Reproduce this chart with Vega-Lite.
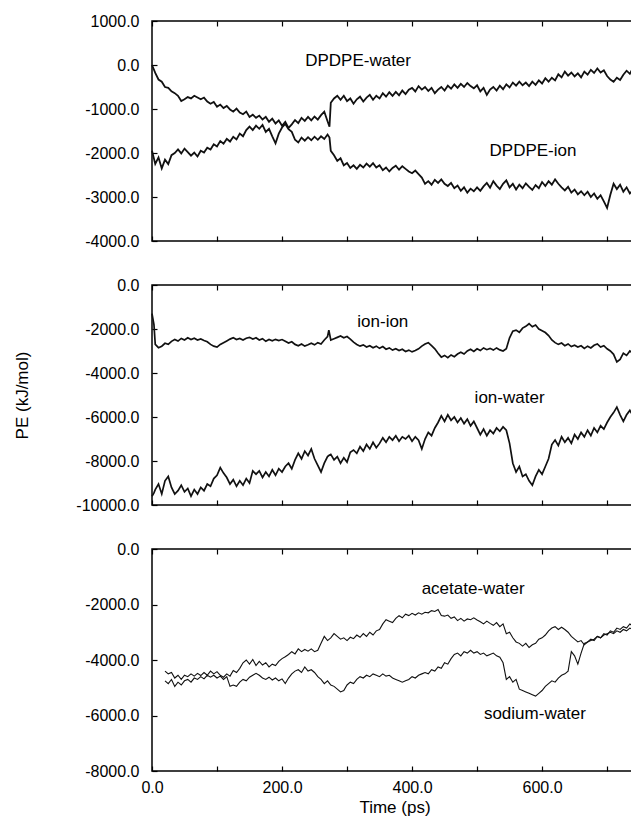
{
  "$schema": "https://vega.github.io/schema/vega-lite/v6.json",
  "padding": {"left": 13, "top": 12, "right": 0, "bottom": 0},
  "background": "white",
  "bounds": "flush",
  "spacing": 44,
  "config": {
    "view": {"stroke": "black", "strokeWidth": 1.5},
    "font": "Liberation Sans",
    "axis": {
      "grid": false, "domain": false, "labelFlush": false,
      "labelFont": "Liberation Sans", "labelFontSize": 16, "labelColor": "black",
      "tickColor": "black", "tickWidth": 1.2,
      "titleFont": "Liberation Sans", "titleFontSize": 17, "titleFontWeight": "normal", "titleColor": "black"
    }
  },
  "datasets": {
    "p1": [
      {"t":0,"w":0,"i":-1950},{"t":5,"w":-180,"i":-2250},{"t":10,"w":-330,"i":-2100},{"t":15,"w":-380,"i":-2350},{"t":20,"w":-500,"i":-2150},
      {"t":25,"w":-520,"i":-2250},{"t":30,"w":-600,"i":-2050},{"t":35,"w":-640,"i":-2000},{"t":40,"w":-700,"i":-1920},{"t":45,"w":-820,"i":-2010},
      {"t":50,"w":-780,"i":-1900},{"t":55,"w":-730,"i":-1980},{"t":60,"w":-760,"i":-2060},{"t":65,"w":-700,"i":-1990},{"t":70,"w":-740,"i":-2080},
      {"t":75,"w":-780,"i":-1950},{"t":80,"w":-740,"i":-1990},{"t":85,"w":-830,"i":-1880},{"t":90,"w":-880,"i":-1920},{"t":95,"w":-840,"i":-1800},
      {"t":100,"w":-950,"i":-1850},{"t":105,"w":-900,"i":-1730},{"t":110,"w":-980,"i":-1790},{"t":115,"w":-930,"i":-1680},{"t":120,"w":-1010,"i":-1740},
      {"t":125,"w":-1060,"i":-1630},{"t":130,"w":-990,"i":-1690},{"t":135,"w":-1080,"i":-1560},{"t":140,"w":-1120,"i":-1620},{"t":145,"w":-1060,"i":-1480},
      {"t":150,"w":-1180,"i":-1400},{"t":155,"w":-1130,"i":-1480},{"t":160,"w":-1200,"i":-1380},{"t":165,"w":-1150,"i":-1450},{"t":170,"w":-1240,"i":-1360},
      {"t":175,"w":-1180,"i":-1520},{"t":180,"w":-1290,"i":-1450},{"t":185,"w":-1220,"i":-1620},{"t":190,"w":-1330,"i":-1780},{"t":195,"w":-1260,"i":-1560},
      {"t":200,"w":-1380,"i":-1420},{"t":205,"w":-1290,"i":-1340},{"t":210,"w":-1430,"i":-1460},{"t":215,"w":-1350,"i":-1520},{"t":220,"w":-1250,"i":-1700},
      {"t":225,"w":-1320,"i":-1760},{"t":230,"w":-1200,"i":-1650},{"t":235,"w":-1270,"i":-1720},{"t":240,"w":-1180,"i":-1640},{"t":245,"w":-1260,"i":-1710},
      {"t":250,"w":-1170,"i":-1630},{"t":255,"w":-1240,"i":-1700},{"t":260,"w":-1140,"i":-1620},{"t":265,"w":-1060,"i":-1680},{"t":270,"w":-1280,"i":-1580},
      {"t":273,"w":-1400,"i":-1650},{"t":275,"w":-860,"i":-1950},{"t":280,"w":-760,"i":-2050},{"t":285,"w":-700,"i":-2180},{"t":290,"w":-790,"i":-2120},
      {"t":295,"w":-700,"i":-2280},{"t":300,"w":-820,"i":-2230},{"t":305,"w":-760,"i":-2340},{"t":310,"w":-880,"i":-2280},{"t":315,"w":-780,"i":-2360},
      {"t":320,"w":-720,"i":-2270},{"t":325,"w":-830,"i":-2330},{"t":330,"w":-740,"i":-2240},{"t":335,"w":-680,"i":-2310},{"t":340,"w":-790,"i":-2230},
      {"t":345,"w":-700,"i":-2330},{"t":350,"w":-760,"i":-2280},{"t":355,"w":-640,"i":-2390},{"t":360,"w":-720,"i":-2330},{"t":365,"w":-620,"i":-2420},
      {"t":370,"w":-700,"i":-2340},{"t":375,"w":-610,"i":-2290},{"t":380,"w":-690,"i":-2380},{"t":385,"w":-580,"i":-2300},{"t":390,"w":-660,"i":-2360},
      {"t":395,"w":-560,"i":-2420},{"t":400,"w":-520,"i":-2460},{"t":405,"w":-600,"i":-2400},{"t":410,"w":-480,"i":-2480},{"t":415,"w":-560,"i":-2560},
      {"t":420,"w":-500,"i":-2700},{"t":425,"w":-590,"i":-2640},{"t":430,"w":-520,"i":-2720},{"t":435,"w":-640,"i":-2610},{"t":440,"w":-560,"i":-2680},
      {"t":445,"w":-500,"i":-2600},{"t":450,"w":-580,"i":-2700},{"t":455,"w":-470,"i":-2750},{"t":460,"w":-540,"i":-2680},{"t":465,"w":-440,"i":-2800},
      {"t":470,"w":-520,"i":-2740},{"t":475,"w":-430,"i":-2860},{"t":480,"w":-500,"i":-2780},{"t":485,"w":-410,"i":-2900},{"t":490,"w":-480,"i":-2810},
      {"t":495,"w":-530,"i":-2870},{"t":500,"w":-460,"i":-2780},{"t":505,"w":-600,"i":-2860},{"t":510,"w":-520,"i":-2760},{"t":515,"w":-680,"i":-2680},
      {"t":520,"w":-560,"i":-2790},{"t":525,"w":-500,"i":-2640},{"t":530,"w":-580,"i":-2740},{"t":535,"w":-470,"i":-2820},{"t":540,"w":-550,"i":-2700},
      {"t":545,"w":-440,"i":-2620},{"t":550,"w":-510,"i":-2780},{"t":555,"w":-400,"i":-2700},{"t":560,"w":-470,"i":-2830},{"t":565,"w":-380,"i":-2720},
      {"t":570,"w":-460,"i":-2800},{"t":575,"w":-400,"i":-2690},{"t":580,"w":-480,"i":-2770},{"t":585,"w":-380,"i":-2840},{"t":590,"w":-450,"i":-2730},
      {"t":595,"w":-350,"i":-2800},{"t":600,"w":-420,"i":-2660},{"t":605,"w":-300,"i":-2750},{"t":610,"w":-380,"i":-2640},{"t":615,"w":-290,"i":-2720},
      {"t":620,"w":-350,"i":-2600},{"t":625,"w":-210,"i":-2700},{"t":630,"w":-280,"i":-2780},{"t":635,"w":-150,"i":-2850},{"t":640,"w":-240,"i":-2770},
      {"t":645,"w":-170,"i":-2900},{"t":650,"w":-260,"i":-2830},{"t":655,"w":-190,"i":-2940},{"t":660,"w":-280,"i":-2870},{"t":665,"w":-150,"i":-2960},
      {"t":670,"w":-220,"i":-2880},{"t":675,"w":-110,"i":-3000},{"t":680,"w":-180,"i":-2920},{"t":685,"w":-80,"i":-3040},{"t":690,"w":-170,"i":-2960},
      {"t":695,"w":-120,"i":-3100},{"t":700,"w":-250,"i":-3250},{"t":705,"w":-330,"i":-2950},{"t":710,"w":-380,"i":-2700},{"t":715,"w":-290,"i":-2820},
      {"t":720,"w":-340,"i":-2720},{"t":725,"w":-220,"i":-2880},{"t":730,"w":-130,"i":-2780},{"t":735,"w":-200,"i":-2920},{"t":740,"w":-60,"i":-2840}
    ],
    "p2": [
      {"t":0,"a":-1300,"b":-9600},{"t":3,"a":-1800,"b":-9450},{"t":5,"a":-2700,"b":-9300},{"t":10,"a":-2850,"b":-9050},{"t":15,"a":-2780,"b":-9500},
      {"t":20,"a":-2650,"b":-8900},{"t":25,"a":-2700,"b":-8700},{"t":30,"a":-2560,"b":-9200},{"t":35,"a":-2480,"b":-9500},{"t":40,"a":-2550,"b":-9350},
      {"t":45,"a":-2430,"b":-9100},{"t":50,"a":-2500,"b":-9400},{"t":55,"a":-2400,"b":-9250},{"t":60,"a":-2480,"b":-9600},{"t":65,"a":-2420,"b":-9300},
      {"t":70,"a":-2500,"b":-9500},{"t":75,"a":-2450,"b":-9200},{"t":80,"a":-2520,"b":-9350},{"t":85,"a":-2580,"b":-9050},{"t":90,"a":-2700,"b":-9150},
      {"t":95,"a":-2780,"b":-8800},{"t":100,"a":-2820,"b":-8650},{"t":105,"a":-2700,"b":-8300},{"t":110,"a":-2620,"b":-8550},{"t":115,"a":-2540,"b":-8750},
      {"t":120,"a":-2460,"b":-9050},{"t":125,"a":-2400,"b":-8850},{"t":130,"a":-2480,"b":-9150},{"t":135,"a":-2430,"b":-8900},{"t":140,"a":-2500,"b":-9100},
      {"t":145,"a":-2420,"b":-8800},{"t":150,"a":-2380,"b":-9000},{"t":155,"a":-2460,"b":-8450},{"t":160,"a":-2400,"b":-8600},{"t":165,"a":-2500,"b":-8450},
      {"t":170,"a":-2440,"b":-8750},{"t":175,"a":-2560,"b":-8500},{"t":180,"a":-2480,"b":-8700},{"t":185,"a":-2540,"b":-8400},{"t":190,"a":-2470,"b":-8650},
      {"t":195,"a":-2530,"b":-8350},{"t":200,"a":-2480,"b":-8500},{"t":205,"a":-2560,"b":-8250},{"t":210,"a":-2640,"b":-8100},{"t":215,"a":-2580,"b":-8350},
      {"t":220,"a":-2700,"b":-7950},{"t":225,"a":-2760,"b":-7650},{"t":230,"a":-2680,"b":-7900},{"t":235,"a":-2780,"b":-7550},{"t":240,"a":-2720,"b":-7750},
      {"t":245,"a":-2650,"b":-7450},{"t":250,"a":-2720,"b":-7900},{"t":255,"a":-2620,"b":-8200},{"t":260,"a":-2680,"b":-8500},{"t":265,"a":-2500,"b":-8100},
      {"t":270,"a":-2350,"b":-7800},{"t":272,"a":-2050,"b":-7750},{"t":275,"a":-2500,"b":-7700},{"t":280,"a":-2440,"b":-7950},{"t":285,"a":-2380,"b":-7800},
      {"t":290,"a":-2320,"b":-8100},{"t":295,"a":-2400,"b":-7850},{"t":300,"a":-2340,"b":-8050},{"t":305,"a":-2460,"b":-7600},{"t":310,"a":-2600,"b":-7500},
      {"t":315,"a":-2700,"b":-7650},{"t":320,"a":-2780,"b":-7350},{"t":325,"a":-2720,"b":-7550},{"t":330,"a":-2820,"b":-7250},{"t":335,"a":-2760,"b":-7450},
      {"t":340,"a":-2850,"b":-7150},{"t":345,"a":-2780,"b":-7400},{"t":350,"a":-2880,"b":-7200},{"t":355,"a":-2800,"b":-6950},{"t":360,"a":-2920,"b":-7150},
      {"t":365,"a":-2860,"b":-6900},{"t":370,"a":-2960,"b":-7050},{"t":375,"a":-2900,"b":-6850},{"t":380,"a":-2980,"b":-7100},{"t":385,"a":-2920,"b":-6900},
      {"t":390,"a":-3020,"b":-7000},{"t":395,"a":-2960,"b":-6850},{"t":400,"a":-3040,"b":-7100},{"t":405,"a":-2980,"b":-6900},{"t":410,"a":-2900,"b":-7050},
      {"t":415,"a":-2780,"b":-7450},{"t":420,"a":-2680,"b":-7000},{"t":425,"a":-2620,"b":-6700},{"t":430,"a":-2760,"b":-6850},{"t":435,"a":-2900,"b":-6500},
      {"t":440,"a":-3100,"b":-6250},{"t":445,"a":-3280,"b":-5950},{"t":450,"a":-3200,"b":-6200},{"t":455,"a":-3300,"b":-5900},{"t":460,"a":-3180,"b":-6150},
      {"t":465,"a":-3260,"b":-6000},{"t":470,"a":-3140,"b":-6250},{"t":475,"a":-3060,"b":-6050},{"t":480,"a":-3140,"b":-6300},{"t":485,"a":-3000,"b":-6100},
      {"t":490,"a":-2920,"b":-6400},{"t":495,"a":-3020,"b":-6200},{"t":500,"a":-2900,"b":-6500},{"t":505,"a":-2980,"b":-6800},{"t":510,"a":-2860,"b":-6550},
      {"t":515,"a":-2940,"b":-6850},{"t":520,"a":-2880,"b":-6600},{"t":525,"a":-2960,"b":-6750},{"t":530,"a":-2860,"b":-6500},{"t":535,"a":-2950,"b":-6650},
      {"t":540,"a":-3000,"b":-6450},{"t":545,"a":-2900,"b":-6600},{"t":550,"a":-2400,"b":-7200},{"t":555,"a":-2100,"b":-8100},{"t":560,"a":-2050,"b":-8500},
      {"t":565,"a":-2150,"b":-8250},{"t":570,"a":-1960,"b":-8700},{"t":575,"a":-1880,"b":-8600},{"t":580,"a":-1760,"b":-8900},{"t":585,"a":-1900,"b":-9100},
      {"t":590,"a":-1820,"b":-8700},{"t":595,"a":-2000,"b":-8400},{"t":600,"a":-2080,"b":-8600},{"t":605,"a":-2160,"b":-8250},{"t":610,"a":-2300,"b":-7900},
      {"t":615,"a":-2500,"b":-7250},{"t":620,"a":-2620,"b":-7050},{"t":625,"a":-2700,"b":-7300},{"t":630,"a":-2640,"b":-6900},{"t":635,"a":-2760,"b":-7150},
      {"t":640,"a":-2680,"b":-6950},{"t":645,"a":-2800,"b":-7200},{"t":650,"a":-2740,"b":-6800},{"t":655,"a":-2820,"b":-7000},{"t":660,"a":-2760,"b":-6700},
      {"t":665,"a":-2880,"b":-6900},{"t":670,"a":-2780,"b":-6600},{"t":675,"a":-2860,"b":-6850},{"t":680,"a":-2740,"b":-6500},{"t":685,"a":-2680,"b":-6700},
      {"t":690,"a":-2820,"b":-6400},{"t":695,"a":-2760,"b":-6550},{"t":700,"a":-2900,"b":-6250},{"t":705,"a":-3000,"b":-6000},{"t":710,"a":-3150,"b":-5800},
      {"t":715,"a":-3500,"b":-5550},{"t":720,"a":-3380,"b":-5900},{"t":725,"a":-3100,"b":-6200},{"t":730,"a":-3200,"b":-5900},{"t":735,"a":-3000,"b":-5700},
      {"t":740,"a":-3100,"b":-5950}
    ],
    "p3": [
      {"t":20,"c":-4400,"d":-4750},{"t":25,"c":-4500,"d":-4850},{"t":30,"c":-4450,"d":-4700},{"t":35,"c":-4650,"d":-4950},{"t":40,"c":-4550,"d":-4800},
      {"t":45,"c":-4700,"d":-4900},{"t":50,"c":-4550,"d":-4750},{"t":55,"c":-4600,"d":-4700},{"t":60,"c":-4500,"d":-4800},{"t":65,"c":-4580,"d":-4650},
      {"t":70,"c":-4480,"d":-4700},{"t":75,"c":-4560,"d":-4600},{"t":80,"c":-4450,"d":-4680},{"t":85,"c":-4550,"d":-4550},{"t":90,"c":-4400,"d":-4620},
      {"t":95,"c":-4500,"d":-4550},{"t":100,"c":-4420,"d":-4650},{"t":105,"c":-4550,"d":-4580},{"t":110,"c":-4620,"d":-4700},{"t":115,"c":-4500,"d":-4600},
      {"t":120,"c":-4580,"d":-4950},{"t":125,"c":-4380,"d":-4900},{"t":130,"c":-4450,"d":-4950},{"t":135,"c":-4300,"d":-4800},{"t":140,"c":-4100,"d":-4700},
      {"t":145,"c":-4000,"d":-4750},{"t":150,"c":-4150,"d":-4620},{"t":155,"c":-3980,"d":-4550},{"t":160,"c":-4200,"d":-4480},{"t":165,"c":-4050,"d":-4550},
      {"t":170,"c":-4180,"d":-4650},{"t":175,"c":-4100,"d":-4700},{"t":180,"c":-4250,"d":-4620},{"t":185,"c":-4150,"d":-4720},{"t":190,"c":-4200,"d":-4650},
      {"t":195,"c":-4050,"d":-4750},{"t":200,"c":-3950,"d":-4680},{"t":205,"c":-3880,"d":-4850},{"t":210,"c":-3800,"d":-4650},{"t":215,"c":-3700,"d":-4500},
      {"t":220,"c":-3780,"d":-4400},{"t":225,"c":-3600,"d":-4350},{"t":230,"c":-3700,"d":-4450},{"t":235,"c":-3620,"d":-4250},{"t":240,"c":-3680,"d":-4400},
      {"t":245,"c":-3600,"d":-4350},{"t":250,"c":-3700,"d":-4450},{"t":255,"c":-3650,"d":-4600},{"t":260,"c":-3400,"d":-4700},{"t":265,"c":-3150,"d":-4850},
      {"t":270,"c":-3300,"d":-4750},{"t":275,"c":-3200,"d":-4900},{"t":280,"c":-3050,"d":-4950},{"t":285,"c":-3150,"d":-5050},{"t":290,"c":-3250,"d":-5150},
      {"t":295,"c":-3200,"d":-5100},{"t":300,"c":-3300,"d":-4900},{"t":305,"c":-3180,"d":-4800},{"t":310,"c":-3230,"d":-4850},{"t":315,"c":-3100,"d":-4700},
      {"t":320,"c":-3180,"d":-4600},{"t":325,"c":-3050,"d":-4650},{"t":330,"c":-3150,"d":-4550},{"t":335,"c":-3000,"d":-4600},{"t":340,"c":-3100,"d":-4500},
      {"t":345,"c":-2950,"d":-4550},{"t":350,"c":-2900,"d":-4600},{"t":355,"c":-2700,"d":-4500},{"t":360,"c":-2550,"d":-4580},{"t":365,"c":-2600,"d":-4550},
      {"t":370,"c":-2650,"d":-4650},{"t":375,"c":-2500,"d":-4700},{"t":380,"c":-2400,"d":-4750},{"t":385,"c":-2480,"d":-4800},{"t":390,"c":-2350,"d":-4750},
      {"t":395,"c":-2400,"d":-4700},{"t":400,"c":-2320,"d":-4600},{"t":405,"c":-2380,"d":-4650},{"t":410,"c":-2300,"d":-4550},{"t":415,"c":-2350,"d":-4500},
      {"t":420,"c":-2280,"d":-4450},{"t":425,"c":-2300,"d":-4500},{"t":430,"c":-2220,"d":-4350},{"t":435,"c":-2250,"d":-4400},{"t":440,"c":-2180,"d":-4250},
      {"t":445,"c":-2400,"d":-4300},{"t":450,"c":-2420,"d":-4100},{"t":455,"c":-2380,"d":-4150},{"t":460,"c":-2500,"d":-3950},{"t":465,"c":-2450,"d":-3800},
      {"t":470,"c":-2580,"d":-3750},{"t":475,"c":-2500,"d":-3850},{"t":480,"c":-2600,"d":-3700},{"t":485,"c":-2520,"d":-3750},{"t":490,"c":-2550,"d":-3650},
      {"t":495,"c":-2480,"d":-3750},{"t":500,"c":-2560,"d":-3700},{"t":505,"c":-2620,"d":-3800},{"t":510,"c":-2700,"d":-3750},{"t":515,"c":-2600,"d":-3850},
      {"t":520,"c":-2680,"d":-3800},{"t":525,"c":-2750,"d":-3750},{"t":530,"c":-2650,"d":-3850},{"t":535,"c":-2800,"d":-3900},{"t":540,"c":-2700,"d":-4100},
      {"t":545,"c":-3050,"d":-4700},{"t":550,"c":-3000,"d":-4600},{"t":555,"c":-3200,"d":-4800},{"t":560,"c":-3350,"d":-4700},{"t":565,"c":-3400,"d":-5050},
      {"t":570,"c":-3500,"d":-5100},{"t":575,"c":-3400,"d":-5150},{"t":580,"c":-3550,"d":-5200},{"t":585,"c":-3450,"d":-5250},{"t":590,"c":-3400,"d":-5300},
      {"t":595,"c":-3250,"d":-5200},{"t":600,"c":-3200,"d":-5100},{"t":605,"c":-3100,"d":-4950},{"t":610,"c":-2950,"d":-4850},{"t":615,"c":-2850,"d":-4750},
      {"t":620,"c":-2800,"d":-4800},{"t":625,"c":-2900,"d":-4650},{"t":630,"c":-2820,"d":-4550},{"t":635,"c":-2900,"d":-4500},{"t":640,"c":-3000,"d":-4400},
      {"t":645,"c":-3150,"d":-3700},{"t":650,"c":-3250,"d":-3850},{"t":655,"c":-3350,"d":-4150},{"t":660,"c":-3300,"d":-3750},{"t":665,"c":-3450,"d":-3400},
      {"t":670,"c":-3350,"d":-3350},{"t":675,"c":-3250,"d":-3300},{"t":680,"c":-3300,"d":-3250},{"t":685,"c":-3150,"d":-3150},{"t":690,"c":-3200,"d":-3200},
      {"t":695,"c":-3050,"d":-3100},{"t":700,"c":-3100,"d":-3050},{"t":705,"c":-2950,"d":-3000},{"t":710,"c":-3000,"d":-3050},{"t":715,"c":-2850,"d":-2950},
      {"t":720,"c":-2900,"d":-3000},{"t":725,"c":-2800,"d":-2900},{"t":730,"c":-2850,"d":-2950},{"t":735,"c":-2700,"d":-2850},{"t":740,"c":-2780,"d":-2900}
    ]
  },
  "vconcat": [
    {
      "width": 485, "height": 220,
      "resolve": {"axis": {"x": "independent"}},
      "layer": [
        {
          "data": {"name": "p1"},
          "mark": {"type": "line", "color": "#111", "strokeWidth": 1.8},
          "encoding": {
            "x": {"field": "t", "type": "quantitative", "scale": {"domain": [0, 746], "nice": false},
                  "axis": {"orient": "bottom", "values": [0,100,200,300,400,500,600,700], "labels": false, "tickSize": -5, "title": null}},
            "y": {"field": "w", "type": "quantitative", "scale": {"domain": [-4000, 1000], "nice": false},
                  "axis": {"values": [1000,0,-1000,-2000,-3000,-4000], "tickSize": -5, "labelPadding": 18, "title": null,
                           "labelExpr": "replace(format(datum.value, '.1f'), '\u2212', '-')"}}
          }
        },
        {
          "data": {"name": "p1"},
          "mark": {"type": "line", "color": "#111", "strokeWidth": 1.8},
          "encoding": {
            "x": {"field": "t", "type": "quantitative",
                  "axis": {"orient": "top", "values": [0,100,200,300,400,500,600,700], "labels": false, "tickSize": -5, "title": null}},
            "y": {"field": "i", "type": "quantitative"}
          }
        },
        {
          "data": {"values": [{"t": 317, "v": 80, "label": "DPDPE-water"}, {"t": 586, "v": -1960, "label": "DPDPE-ion"}]},
          "mark": {"type": "text", "fontSize": 17, "font": "Liberation Sans", "color": "black"},
          "encoding": {
            "x": {"field": "t", "type": "quantitative", "axis": null},
            "y": {"field": "v", "type": "quantitative"},
            "text": {"field": "label"}
          }
        }
      ]
    },
    {
      "width": 485, "height": 220,
      "resolve": {"axis": {"x": "independent"}},
      "layer": [
        {
          "data": {"name": "p2"},
          "mark": {"type": "line", "color": "#111", "strokeWidth": 1.7},
          "encoding": {
            "x": {"field": "t", "type": "quantitative", "scale": {"domain": [0, 746], "nice": false},
                  "axis": {"orient": "bottom", "values": [0,100,200,300,400,500,600,700], "labels": false, "tickSize": -5, "title": null}},
            "y": {"field": "a", "type": "quantitative", "scale": {"domain": [-10000, 0], "nice": false},
                  "axis": {"values": [0,-2000,-4000,-6000,-8000,-10000], "tickSize": -5, "labelPadding": 18, "title": "PE (kJ/mol)", "titlePadding": 44,
                           "labelExpr": "replace(format(datum.value, '.1f'), '\u2212', '-')"}}
          }
        },
        {
          "data": {"name": "p2"},
          "mark": {"type": "line", "color": "#111", "strokeWidth": 1.7},
          "encoding": {
            "x": {"field": "t", "type": "quantitative",
                  "axis": {"orient": "top", "values": [0,100,200,300,400,500,600,700], "labels": false, "tickSize": -5, "title": null}},
            "y": {"field": "b", "type": "quantitative"}
          }
        },
        {
          "data": {"values": [{"t": 355, "v": -1660, "label": "ion-ion"}, {"t": 550, "v": -5140, "label": "ion-water"}]},
          "mark": {"type": "text", "fontSize": 17, "font": "Liberation Sans", "color": "black"},
          "encoding": {
            "x": {"field": "t", "type": "quantitative", "axis": null},
            "y": {"field": "v", "type": "quantitative"},
            "text": {"field": "label"}
          }
        }
      ]
    },
    {
      "width": 485, "height": 222,
      "resolve": {"axis": {"x": "independent"}},
      "layer": [
        {
          "data": {"name": "p3"},
          "mark": {"type": "line", "color": "#111", "strokeWidth": 1.1},
          "encoding": {
            "x": {"field": "t", "type": "quantitative", "scale": {"domain": [0, 746], "nice": false},
                  "axis": {"orient": "bottom", "values": [0,100,200,300,400,500,600,700], "tickSize": -5, "labelPadding": 13, "title": "Time (ps)", "titlePadding": 4,
                           "labelExpr": "datum.value % 200 == 0 ? format(datum.value, '.1f') : ''"}},
            "y": {"field": "c", "type": "quantitative", "scale": {"domain": [-8000, 0], "nice": false},
                  "axis": {"values": [0,-2000,-4000,-6000,-8000], "tickSize": -5, "labelPadding": 18, "title": null,
                           "labelExpr": "replace(format(datum.value, '.1f'), '\u2212', '-')"}}
          }
        },
        {
          "data": {"name": "p3"},
          "mark": {"type": "line", "color": "#111", "strokeWidth": 1.1},
          "encoding": {
            "x": {"field": "t", "type": "quantitative",
                  "axis": {"orient": "top", "values": [0,100,200,300,400,500,600,700], "labels": false, "tickSize": -5, "title": null}},
            "y": {"field": "d", "type": "quantitative"}
          }
        },
        {
          "data": {"values": [{"t": 494, "v": -1430, "label": "acetate-water"}, {"t": 589, "v": -5940, "label": "sodium-water"}]},
          "mark": {"type": "text", "fontSize": 17, "font": "Liberation Sans", "color": "black"},
          "encoding": {
            "x": {"field": "t", "type": "quantitative", "axis": null},
            "y": {"field": "v", "type": "quantitative"},
            "text": {"field": "label"}
          }
        }
      ]
    }
  ]
}
